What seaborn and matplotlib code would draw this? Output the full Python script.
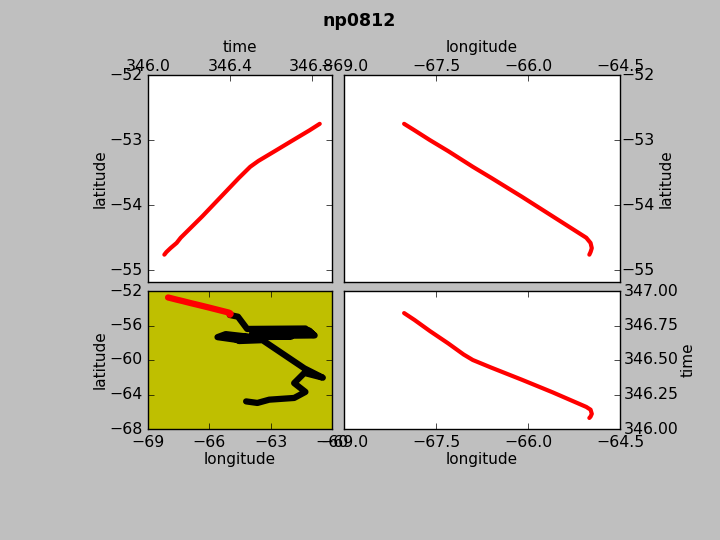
import pandas as pd
import matplotlib.pyplot as plt
import seaborn as sns

plt.style.use('classic')
sns.set_style({'font.family': ['DejaVu Sans']})
plt.rcParams['font.size'] = 11
plt.rcParams['axes.labelsize'] = 11
plt.rcParams['xtick.labelsize'] = 11.3
plt.rcParams['ytick.labelsize'] = 11.3

# red part of the track
lon_red = [-68.02, -67.85, -67.60, -67.30, -67.05, -66.90, -66.60, -66.10, -65.60, -65.05, -64.98, -64.96, -64.98, -65.00]
lat_red = [-52.75, -52.85, -53.00, -53.17, -53.32, -53.41, -53.58, -53.87, -54.17, -54.50, -54.58, -54.66, -54.72, -54.76]
time_red = [346.84, 346.79, 346.71, 346.62, 346.54, 346.50, 346.445, 346.357, 346.266, 346.16, 346.14, 346.11, 346.09, 346.08]

# rest of the track, black
lon_black = [-65.00, -64.60, -64.15, -61.30, -60.85, -62.90, -63.90, -61.10, -60.90, -63.90, -61.30, -63.90,
             -62.00, -63.90, -65.20, -65.60, -64.55, -63.40, -65.00, -64.55, -63.40,
             -61.35, -60.45, -61.35, -61.85, -61.30, -61.85, -63.07, -63.65, -64.20]
lat_black = [-54.78, -54.98, -56.40, -56.35, -57.15, -57.20, -56.45, -56.60, -57.10, -56.75, -56.90, -57.05,
             -57.30, -57.35, -57.00, -57.35, -57.70, -57.45, -57.20, -57.80, -57.70,
             -60.97, -62.05, -61.50, -62.68, -63.70, -64.40, -64.60, -64.98, -64.80]

# axis ticks
time_ticks = [346.0, 346.4, 346.8]
lat_ticks = [-52, -53, -54, -55]
lon_ticks = [-69.0, -67.5, -66.0, -64.5]
map_lon_ticks = [-69, -66, -63, -60]
map_lat_ticks = [-52, -56, -60, -64, -68]
time_yticks = [346.0, 346.25, 346.5, 346.75, 347.0]

df = pd.DataFrame({'lon': lon_red, 'lat': lat_red, 'time': time_red})
black = pd.DataFrame({'lon': lon_black, 'lat': lat_black})

fig = plt.figure(figsize=(7.2, 5.4), dpi=100)
W, H = 720.0, 540.0


def make_ax(x0, x1, y0, y1):
    return fig.add_axes([x0 / W, 1 - y1 / H, (x1 - x0) / W, (y1 - y0) / H])


def track(data, x, y, ax, color='r', lw=3.0):
    line = sns.lineplot(data=data, x=x, y=y, sort=False, estimator=None, color=color, lw=lw, ax=ax)
    for ln in line.lines:
        ln.set_solid_capstyle('round')
        ln.set_solid_joinstyle('round')


# latitude vs time
ax1 = make_ax(148, 332, 75, 282)
track(df, 'time', 'lat', ax1)
ax1.set_xlim(346.0, 346.9)
ax1.set_ylim(-55.18, -52)
ax1.set_xticks(time_ticks)
ax1.set_yticks(lat_ticks)
ax1.set_xticklabels(['%.1f' % t for t in time_ticks])
ax1.xaxis.tick_top()
ax1.xaxis.set_label_position('top')
ax1.tick_params(axis='x', pad=1)
ax1.set_xlabel('time', labelpad=5)
ax1.set_ylabel('latitude', labelpad=1)

# latitude vs longitude
ax2 = make_ax(344, 620, 75, 282)
track(df, 'lon', 'lat', ax2)
ax2.set_xlim(-69, -64.5)
ax2.set_ylim(-55.18, -52)
ax2.set_xticks(lon_ticks)
ax2.set_yticks(lat_ticks)
ax2.xaxis.tick_top()
ax2.xaxis.set_label_position('top')
ax2.yaxis.tick_right()
ax2.yaxis.set_label_position('right')
ax2.tick_params(axis='x', pad=1)
ax2.tick_params(axis='y', pad=1)
ax2.set_xlabel('longitude', labelpad=5)
ax2.set_ylabel('latitude', labelpad=3)

# map of the whole track
ax3 = make_ax(148, 332, 291, 429)
ax3.set_facecolor('y')
track(black, 'lon', 'lat', ax3, color='k', lw=4.5)
track(df, 'lon', 'lat', ax3, lw=4.5)
ax3.set_xlim(-69, -60)
ax3.set_ylim(-68, -52)
ax3.set_xticks(map_lon_ticks)
ax3.set_yticks(map_lat_ticks)
ax3.set_xlabel('longitude', labelpad=2)
ax3.set_ylabel('latitude', labelpad=1)

# time vs longitude
ax4 = make_ax(344, 620, 291, 429)
track(df, 'lon', 'time', ax4)
ax4.set_xlim(-69, -64.5)
ax4.set_ylim(346.0, 347.0)
ax4.set_xticks(lon_ticks)
ax4.set_yticks(time_yticks)
ax4.set_yticklabels(['%.2f' % t for t in time_yticks])
ax4.yaxis.tick_right()
ax4.yaxis.set_label_position('right')
ax4.tick_params(axis='y', pad=3)
ax4.set_xlabel('longitude', labelpad=2)
ax4.set_ylabel('time', labelpad=1)

fig.suptitle('np0812', fontsize=12.5, fontweight='bold', x=0.499, y=0.977)
fig.savefig('out.png', dpi=100, facecolor=fig.get_facecolor(), edgecolor='w')
